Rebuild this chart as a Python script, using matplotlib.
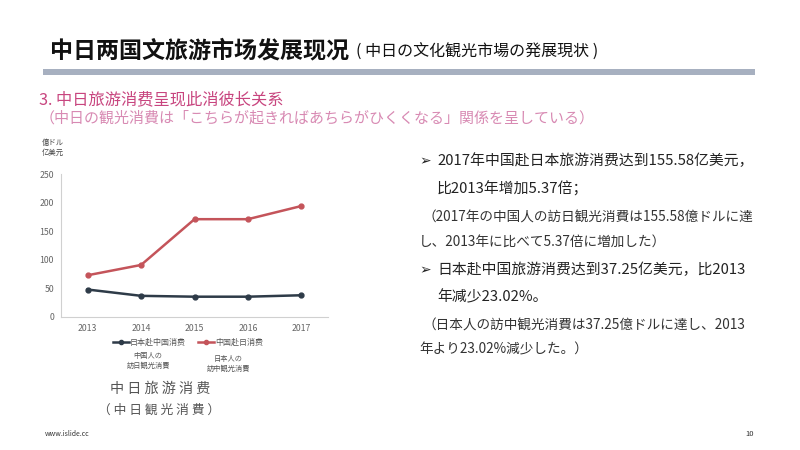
import matplotlib.pyplot as plt
from matplotlib.lines import Line2D

plt.rcParams['font.family'] = ['Noto Sans CJK SC', 'DejaVu Sans']

# chart data
years = ['2013', '2014', '2015', '2016', '2017']
jp_to_cn = [48, 37, 35.5, 35.5, 38]     # 日本赴中国消费
cn_to_jp = [73, 91, 171, 171, 194]      # 中国赴日消费
yticks = [0, 50, 100, 150, 200, 250]

series_names = ['日本赴中国消费', '中国赴日消费']
series_notes = ['中国人の\n訪日観光消費', '日本人の\n訪中観光消費']

right_lines = [
    ('➢', '2017年中国赴日本旅游消费达到155.58亿美元，', 161, 'main'),
    ('', '比2013年增加5.37倍；', 189, 'main'),
    ('', '（2017年の中国人の訪日観光消費は155.58億ドルに達', 218, 'sub'),
    ('', 'し、2013年に比べて5.37倍に増加した）', 242, 'sub2'),
    ('➢', '日本赴中国旅游消费达到37.25亿美元，比2013', 270, 'main'),
    ('', '年减少23.02%。', 297, 'main'),
    ('', '（日本人の訪中観光消費は37.25億ドルに達し、2013', 326, 'sub'),
    ('', '年より23.02%減少した。）', 349, 'sub2'),
]

W, H = 800, 450
fig = plt.figure(figsize=(8, 4.5), dpi=100)
fig.patch.set_facecolor('white')


def fx(px):
    return px / W


def fy(py):
    return 1 - py / H


# header
fig.text(fx(50), fy(51), '中日两国文旅游市场发展现况', fontsize=16.6, fontweight='bold',
         color='#111111', va='center', ha='left')
fig.text(fx(356), fy(52), '( 中日の文化観光市場の発展現状 )', fontsize=11.5,
         color='#111111', va='center', ha='left')
fig.add_artist(plt.Rectangle((fx(43), fy(75)), fx(755) - fx(43), 6 / H,
                             transform=fig.transFigure, color='#a7b0c0', lw=0))

fig.text(fx(39), fy(100), '3. 中日旅游消费呈现此消彼长关系', fontsize=11.7,
         color='#c8457f', va='center', ha='left')
fig.text(fx(40), fy(118), '（中日の観光消費は「こちらが起きればあちらがひくくなる」関係を呈している）',
         fontsize=10.8, color='#d88ab3', va='center', ha='left')

# chart
ax = fig.add_axes([fx(61), fy(317), fx(328) - fx(61), (317 - 174) / H])
x = range(len(years))
ax.plot(x, jp_to_cn, color='#2e3b48', lw=1.8, marker='o', ms=3.5)
ax.plot(x, cn_to_jp, color='#c4545a', lw=1.8, marker='o', ms=3.5)
ax.set_xlim(-0.5, len(years) - 0.5)
ax.set_ylim(0, 250)
ax.set_yticks(yticks)
ax.set_xticks(list(x))
ax.set_xticklabels(years)
for s in ['top', 'right']:
    ax.spines[s].set_visible(False)
for s in ['left', 'bottom']:
    ax.spines[s].set_color('#d0d0d0')
    ax.spines[s].set_linewidth(0.8)
ax.tick_params(length=0, labelsize=6.3, labelcolor='#666666', pad=5)

fig.text(fx(42), fy(143), '億ドル', fontsize=5.3, color='#444444', va='center')
fig.text(fx(42), fy(153), '亿美元', fontsize=5.3, color='#444444', va='center')

# legend
handles = [Line2D([], [], color='#2e3b48', lw=1.8, marker='o', ms=3),
           Line2D([], [], color='#c4545a', lw=1.8, marker='o', ms=3)]
fig.legend(handles, series_names, loc='center', bbox_to_anchor=(fx(188), fy(342)),
           ncol=2, frameon=False, fontsize=5.8, handlelength=2, handletextpad=0.1,
           columnspacing=1.5, labelcolor='#555555')
fig.text(fx(148), fy(361), series_notes[0], fontsize=5.2, color='#555555',
         ha='center', va='center', linespacing=1.4)
fig.text(fx(228), fy(364), series_notes[1], fontsize=5.2, color='#555555',
         ha='center', va='center', linespacing=1.4)

fig.text(fx(160), fy(389), '中 日 旅 游 消 费', fontsize=10.2, color='#555555',
         ha='center', va='center')
fig.text(fx(159), fy(410), '（ 中 日 観 光 消 費 ）', fontsize=9.2, color='#555555',
         ha='center', va='center')

# right text
for bullet, txt, py, kind in right_lines:
    if bullet:
        fig.text(fx(419), fy(py), bullet, fontsize=10, color='#222222',
                 va='center', family=['DejaVu Sans'])
    if kind == 'main':
        fig.text(fx(437), fy(py), txt, fontsize=10.7, color='#222222', va='center')
    elif kind == 'sub':
        fig.text(fx(422), fy(py), txt, fontsize=9.8, color='#333333', va='center')
    else:
        fig.text(fx(419), fy(py), txt, fontsize=9.8, color='#333333', va='center')

# footer
fig.text(fx(45), fy(434), 'www.islide.cc', fontsize=5, color='#333333', va='center')
fig.text(fx(745), fy(434), '10', fontsize=5.5, color='#333333', va='center')

fig.savefig('out.png', dpi=100)
